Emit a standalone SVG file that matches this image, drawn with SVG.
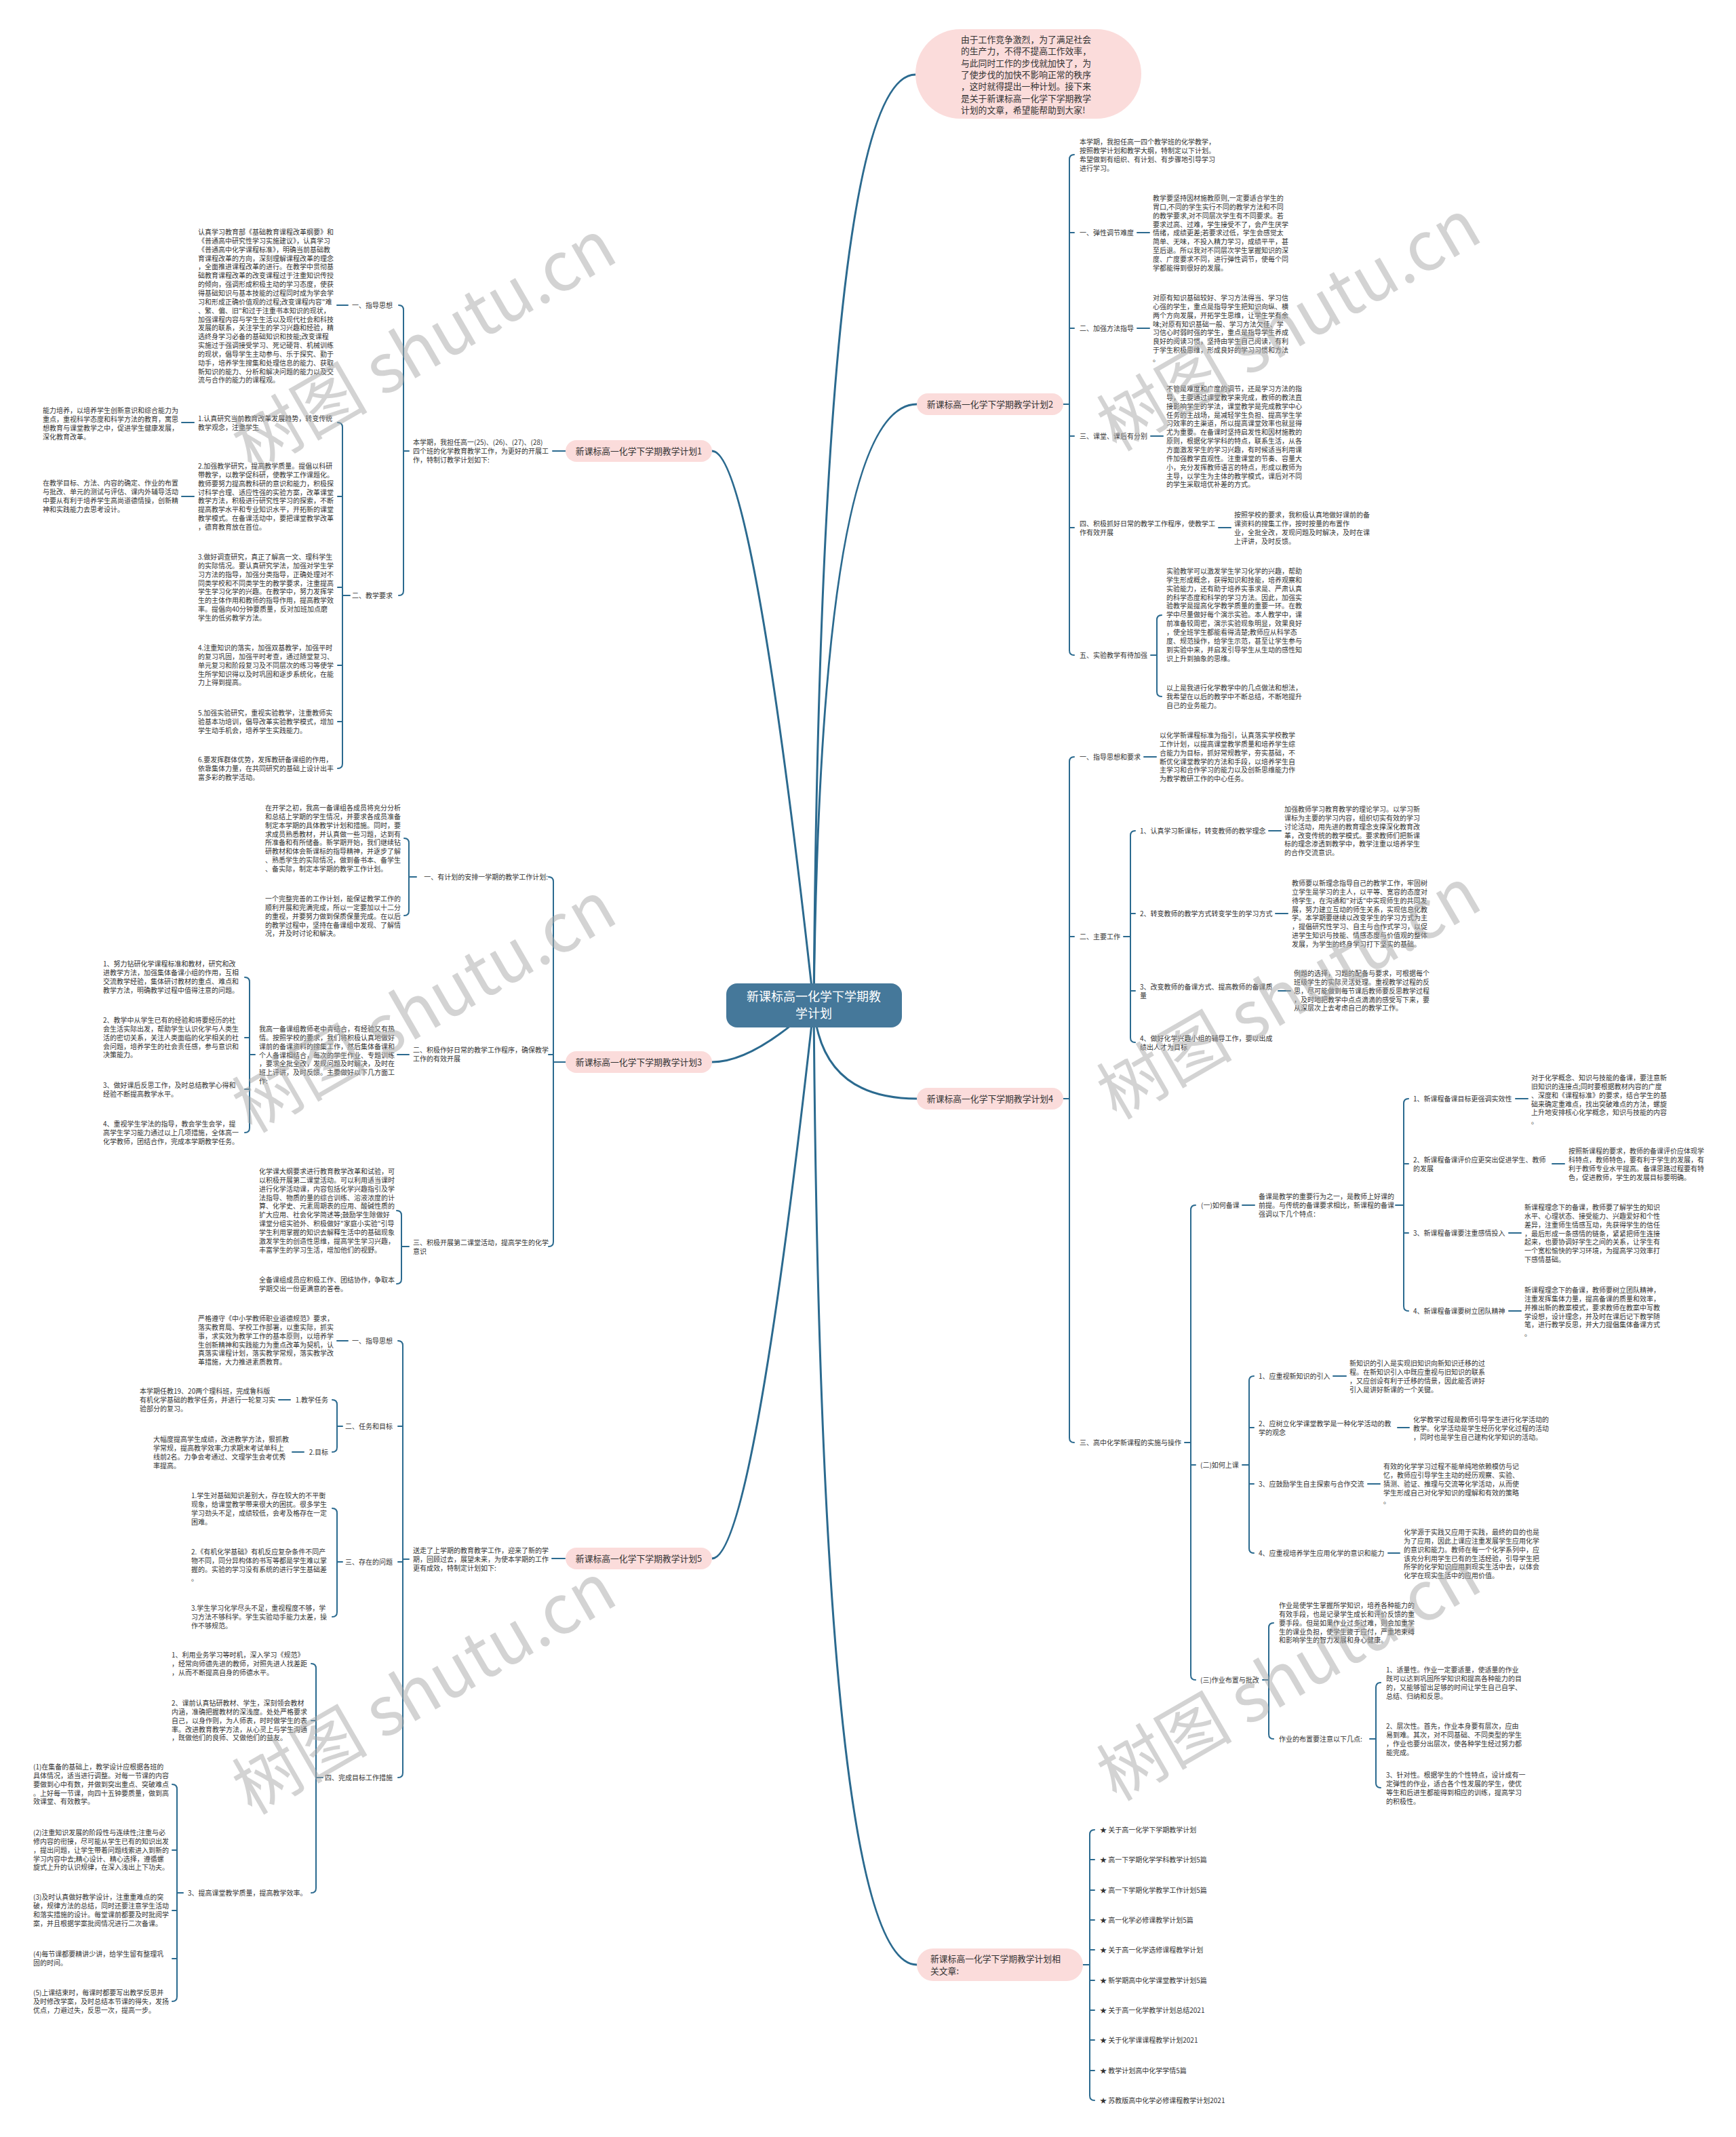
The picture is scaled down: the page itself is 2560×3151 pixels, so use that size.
<svg xmlns="http://www.w3.org/2000/svg" width="2560" height="3151" viewBox="0 0 2560 3151">
<style>
.t{font-family:"Noto Sans CJK SC","Liberation Sans",sans-serif;font-size:10px;fill:#333}
.e{text-anchor:end}
.pt{font-family:"Noto Sans CJK SC","Liberation Sans",sans-serif;font-size:12.8px;fill:#333}
.pill{fill:#fbdcdb}
.c{fill:none;stroke:#2b6a8f;stroke-width:2;stroke-linecap:round}
.m{fill:none;stroke:#2b6a8f;stroke-width:3;stroke-linecap:round}
.wm{font-family:"Noto Sans CJK SC","Liberation Sans",sans-serif;font-size:100px;fill:#a8a8a8;opacity:0.5;text-anchor:middle}
</style>
<rect width="2560" height="3151" fill="#ffffff"/>
<g id="connectors">
<path class="m" d="M1200 1483 Q1210 110 1350 110"/>
<path class="m" d="M1200 1483 Q1210 596 1352 596"/>
<path class="m" d="M1200 1483 Q1210 1620 1352 1620"/>
<path class="m" d="M1200 1483 Q1210 2897 1352 2897"/>
<path class="m" d="M1200 1483 Q1110 665 1050 665"/>
<path class="m" d="M1200 1483 Q1110 1566 1050 1566"/>
<path class="m" d="M1200 1483 Q1110 2298 1050 2298"/>
<path class="c" d="M1568 596 H1577 M1584 228 Q1577 228 1577 235 V959 Q1577 966 1584 966 M1577 343 H1584 M1577 484 H1584 M1577 643 H1584 M1577 778 H1584"/>
<path class="c" d="M1677 343 H1695 M1677 484 H1695 M1697 643 H1715 M1797 778 H1815 M1697 966 H1706 M1713 907 Q1706 907 1706 914 V1020 Q1706 1027 1713 1027"/>
<path class="c" d="M1568 1620 H1577 M1584 1116 Q1577 1116 1577 1123 V2120 Q1577 2127 1584 2127 M1577 1381 H1584"/>
<path class="c" d="M1687 1116 H1705 M1657 1381 H1667 M1674 1225 Q1667 1225 1667 1232 V1530 Q1667 1537 1674 1537 M1667 1347 H1674 M1667 1461 H1674"/>
<path class="c" d="M1871 1225 H1889 M1881 1347 H1899 M1885 1461 H1903"/>
<path class="c" d="M1747 2127 H1756 M1763 1777 Q1756 1777 1756 1784 V2470 Q1756 2477 1763 2477 M1756 2160 H1763"/>
<path class="c" d="M1832 1777 H1850 M2058 1777 H2070 M2077 1620 Q2070 1620 2070 1627 V1926 Q2070 1933 2077 1933 M2070 1716 H2077 M2070 1818 H2077"/>
<path class="c" d="M2235 1620 H2253 M2289 1716 H2307 M2225 1818 H2243 M2225 1933 H2243"/>
<path class="c" d="M1832 2160 H1842 M1849 2029 Q1842 2029 1842 2036 V2283 Q1842 2290 1849 2290 M1842 2105 H1849 M1842 2188 H1849"/>
<path class="c" d="M1966 2029 H1985 M2061 2105 H2078 M2017 2188 H2035 M2047 2290 H2064"/>
<path class="c" d="M1862 2477 H1871 M1878 2393 Q1871 2393 1871 2400 V2557 Q1871 2564 1878 2564"/>
<path class="c" d="M2020 2564 H2029 M2036 2481 Q2029 2481 2029 2488 V2629 Q2029 2636 2036 2636"/>
<path class="c" d="M1597 2897 H1607 M1614 2698 Q1607 2698 1607 2705 V3090 Q1607 3097 1614 3097 M1607 2742 H1614 M1607 2787 H1614 M1607 2831 H1614 M1607 2875 H1614 M1607 2920 H1614 M1607 2964 H1614 M1607 3008 H1614 M1607 3053 H1614"/>
<path class="c" d="M834 665 H815 M603 665 H595 M588 450 Q595 450 595 457 V871 Q595 878 588 878"/>
<path class="c" d="M513 450 H497 M516 878 H505 M498 623 Q505 623 505 630 V1126 Q505 1133 498 1133 M505 732 H498 M505 866 H498 M505 981 H498 M505 1064 H498"/>
<path class="c" d="M286 623 H268 M286 732 H268"/>
<path class="c" d="M834 1566 H816 M809 1293 Q816 1293 816 1300 V1831 Q816 1838 809 1838 M816 1555 H809"/>
<path class="c" d="M614 1293 H603 M596 1236 Q603 1236 603 1243 V1343 Q603 1350 596 1350"/>
<path class="c" d="M603 1555 H586 M376 1555 H368 M361 1441 Q368 1441 368 1448 V1663 Q368 1670 361 1670 M368 1530 H361 M368 1606 H361"/>
<path class="c" d="M603 1838 H592 M585 1785 Q592 1785 592 1792 V1886 Q592 1893 585 1893"/>
<path class="c" d="M833 2298 H814 M603 2299 H594 M587 1977 Q594 1977 594 1984 V2614 Q594 2621 587 2621 M594 2103 H587 M594 2303 H587"/>
<path class="c" d="M513 1977 H497 M505 2103 H497 M490 2064 Q497 2064 497 2071 V2134 Q497 2141 490 2141 M428 2064 H411 M448 2141 H431"/>
<path class="c" d="M505 2303 H497 M490 2224 Q497 2224 497 2231 V2377 Q497 2384 490 2384"/>
<path class="c" d="M476 2621 H466 M459 2453 Q466 2453 466 2460 V2784 Q466 2791 459 2791 M466 2537 H459"/>
<path class="c" d="M270 2791 H261 M254 2631 Q261 2631 261 2638 V2944 Q261 2951 254 2951 M261 2728 H254 M261 2817 H254 M261 2888 H254"/>
</g>

<g id="center">
<rect x="1071" y="1450" width="259" height="65" rx="16" fill="#45789a"/>
<text x="1200" y="1476" text-anchor="middle" style="font-family:'Noto Sans CJK SC',sans-serif;font-size:18px;fill:#ffffff"><tspan x="1200">新课标高一化学下学期教</tspan><tspan x="1200" dy="25">学计划</tspan></text>
</g>

<g id="intro">
<rect class="pill" x="1350" y="43" width="333" height="132" rx="66"/>
<text class="pt" x="1417" y="63"><tspan x="1417">由于工作竞争激烈，为了满足社会</tspan><tspan x="1417" dy="17.3">的生产力，不得不提高工作效率，</tspan><tspan x="1417" dy="17.3">与此同时工作的步伐就加快了，为</tspan><tspan x="1417" dy="17.3">了使步伐的加快不影响正常的秩序</tspan><tspan x="1417" dy="17.3">，这时就得提出一种计划。接下来</tspan><tspan x="1417" dy="17.3">是关于新课标高一化学下学期教学</tspan><tspan x="1417" dy="17.3">计划的文章，希望能帮助到大家!</tspan></text>
</g>

<g id="b2">
<rect class="pill" x="1352" y="580" width="216" height="32" rx="16"/>
<text class="pt" x="1460" y="601" text-anchor="middle">新课标高一化学下学期教学计划2</text>
</g>
<g id="b2-intro">
<text class="t" x="1592" y="213"><tspan x="1592">本学期，我担任高一四个教学班的化学教学，</tspan><tspan x="1592" dy="12.85">按照教学计划和教学大纲，特制定以下计划。</tspan><tspan x="1592" dy="12.85">希望做到有组织、有计划、有步骤地引导学习</tspan><tspan x="1592" dy="12.85">进行学习。</tspan></text>
</g>
<g id="b2-1">
<text class="t" x="1592" y="347">一、弹性调节难度</text>
<text class="t" x="1700" y="296"><tspan x="1700">教学要坚持因材施教原则,一定要适合学生的</tspan><tspan x="1700" dy="12.85">胃口,不同的学生实行不同的教学方法和不同</tspan><tspan x="1700" dy="12.85">的教学要求,对不同层次学生有不同要求。若</tspan><tspan x="1700" dy="12.85">要求过高、过难，学生接受不了，会产生厌学</tspan><tspan x="1700" dy="12.85">情绪，成绩更差;若要求过低，学生会感觉太</tspan><tspan x="1700" dy="12.85">简单、无味，不投入精力学习，成绩平平，甚</tspan><tspan x="1700" dy="12.85">至后退。所以我对不同层次学生掌握知识的深</tspan><tspan x="1700" dy="12.85">度、广度要求不同，进行弹性调节，使每个同</tspan><tspan x="1700" dy="12.85">学都能得到很好的发展。</tspan></text>
</g>
<g id="b2-2">
<text class="t" x="1592" y="488">二、加强方法指导</text>
<text class="t" x="1700" y="443"><tspan x="1700">对原有知识基础较好、学习方法得当、学习信</tspan><tspan x="1700" dy="12.85">心强的学生，重点是指导学生把知识向纵、横</tspan><tspan x="1700" dy="12.85">两个方向发展，开拓学生思维，让学生学有余</tspan><tspan x="1700" dy="12.85">味;对原有知识基础一般、学习方法欠佳、学</tspan><tspan x="1700" dy="12.85">习信心时弱时强的学生，重点是指导学生养成</tspan><tspan x="1700" dy="12.85">良好的阅读习惯，坚持由学生自己阅读，有利</tspan><tspan x="1700" dy="12.85">于学生积极思维，形成良好的学习习惯和方法</tspan><tspan x="1700" dy="12.85">。</tspan></text>
</g>
<g id="b2-3">
<text class="t" x="1592" y="647">三、课堂、课后有分别</text>
<text class="t" x="1720" y="577"><tspan x="1720">不管是难度和广度的调节，还是学习方法的指</tspan><tspan x="1720" dy="12.85">导，主要通过课堂教学来完成，教师的教法直</tspan><tspan x="1720" dy="12.85">接影响学生的学法，课堂教学是完成教学中心</tspan><tspan x="1720" dy="12.85">任务的主战场，是减轻学生负担、提高学生学</tspan><tspan x="1720" dy="12.85">习效率的主渠道，所以提高课堂效率也就显得</tspan><tspan x="1720" dy="12.85">尤为重要。在备课时坚持启发性和因材施教的</tspan><tspan x="1720" dy="12.85">原则，根据化学学科的特点，联系生活，从各</tspan><tspan x="1720" dy="12.85">方面激发学生的学习兴趣，有时候适当利用课</tspan><tspan x="1720" dy="12.85">件加强教学直观性。注重课堂的节奏、容量大</tspan><tspan x="1720" dy="12.85">小，充分发挥教师语言的特点，形成以教师为</tspan><tspan x="1720" dy="12.85">主导，以学生为主体的教学模式，课后对不同</tspan><tspan x="1720" dy="12.85">的学生采取培优补差的方式。</tspan></text>
</g>
<g id="b2-4">
<text class="t" x="1592" y="776"><tspan x="1592">四、积极抓好日常的教学工作程序，使教学工</tspan><tspan x="1592" dy="12.85">作有效开展</tspan></text>
<text class="t" x="1820" y="763"><tspan x="1820">按照学校的要求，我积极认真地做好课前的备</tspan><tspan x="1820" dy="12.85">课资料的搜集工作，按时按量的布置作</tspan><tspan x="1820" dy="12.85">业，全批全改，发现问题及时解决，及时在课</tspan><tspan x="1820" dy="12.85">上评讲，及时反馈。</tspan></text>
</g>
<g id="b2-5">
<text class="t" x="1592" y="970">五、实验教学有待加强</text>
<text class="t" x="1720" y="846"><tspan x="1720">实验教学可以激发学生学习化学的兴趣，帮助</tspan><tspan x="1720" dy="12.85">学生形成概念，获得知识和技能，培养观察和</tspan><tspan x="1720" dy="12.85">实验能力，还有助于培养实事求是、严肃认真</tspan><tspan x="1720" dy="12.85">的科学态度和科学的学习方法。因此，加强实</tspan><tspan x="1720" dy="12.85">验教学是提高化学教学质量的重要一环。在教</tspan><tspan x="1720" dy="12.85">学中尽量做好每个演示实验。本人教学中，课</tspan><tspan x="1720" dy="12.85">前准备较周密，演示实验现象明显，效果良好</tspan><tspan x="1720" dy="12.85">，使全班学生都能看得清楚;教师应从科学态</tspan><tspan x="1720" dy="12.85">度、规范操作，给学生示范，甚至让学生参与</tspan><tspan x="1720" dy="12.85">到实验中来，并启发引导学生从生动的感性知</tspan><tspan x="1720" dy="12.85">识上升到抽象的思维。</tspan></text>
<text class="t" x="1720" y="1018"><tspan x="1720">以上是我进行化学教学中的几点做法和想法，</tspan><tspan x="1720" dy="12.85">我希望在以后的教学中不断总结，不断地提升</tspan><tspan x="1720" dy="12.85">自己的业务能力。</tspan></text>
</g>

<g id="b4">
<rect class="pill" x="1352" y="1604" width="216" height="32" rx="16"/>
<text class="pt" x="1460" y="1625" text-anchor="middle">新课标高一化学下学期教学计划4</text>
</g>
<g id="b4-1">
<text class="t" x="1592" y="1120">一、指导思想和要求</text>
<text class="t" x="1710" y="1088"><tspan x="1710">以化学新课程标准为指引，认真落实学校教学</tspan><tspan x="1710" dy="12.85">工作计划，以提高课堂教学质量和培养学生综</tspan><tspan x="1710" dy="12.85">合能力为目标，抓好常规教学，夯实基础，不</tspan><tspan x="1710" dy="12.85">断优化课堂教学的方法和手段，以培养学生自</tspan><tspan x="1710" dy="12.85">主学习和合作学习的能力以及创新思维能力作</tspan><tspan x="1710" dy="12.85">为教学教研工作的中心任务。</tspan></text>
</g>
<g id="b4-2">
<text class="t" x="1592" y="1385">二、主要工作</text>
</g>
<g id="b4-2-1">
<text class="t" x="1681" y="1229">1、认真学习新课标，转变教师的教学理念</text>
<text class="t" x="1894" y="1197"><tspan x="1894">加强教师学习教育教学的理论学习。以学习新</tspan><tspan x="1894" dy="12.85">课标为主要的学习内容，组织切实有效的学习</tspan><tspan x="1894" dy="12.85">讨论活动，用先进的教育理念支撑深化教育改</tspan><tspan x="1894" dy="12.85">革，改变传统的教学模式。要求教师们把新课</tspan><tspan x="1894" dy="12.85">标的理念渗透到教学中，教学注重以培养学生</tspan><tspan x="1894" dy="12.85">的合作交流意识。</tspan></text>
</g>
<g id="b4-2-2">
<text class="t" x="1681" y="1351">2、转变教师的教学方式转变学生的学习方式</text>
<text class="t" x="1905" y="1306"><tspan x="1905">教师要以新理念指导自己的教学工作，牢固树</tspan><tspan x="1905" dy="12.85">立学生是学习的主人，以平等、宽容的态度对</tspan><tspan x="1905" dy="12.85">待学生，在沟通和&quot;对话&quot;中实现师生的共同发</tspan><tspan x="1905" dy="12.85">展，努力建立互动的师生关系，实现信息化教</tspan><tspan x="1905" dy="12.85">学。本学期要继续以改变学生的学习方式为主</tspan><tspan x="1905" dy="12.85">，提倡研究性学习、自主与合作式学习，以促</tspan><tspan x="1905" dy="12.85">进学生知识与技能、情感态度与价值观的整体</tspan><tspan x="1905" dy="12.85">发展，为学生的终身学习打下坚实的基础。</tspan></text>
</g>
<g id="b4-2-3">
<text class="t" x="1681" y="1459"><tspan x="1681">3、改变教师的备课方式、提高教师的备课质</tspan><tspan x="1681" dy="12.85">量</tspan></text>
<text class="t" x="1908" y="1439"><tspan x="1908">例题的选择，习题的配备与要求，可根据每个</tspan><tspan x="1908" dy="12.85">班级学生的实际灵活处理。重视教学过程的反</tspan><tspan x="1908" dy="12.85">思，尽可能做到每节课后教师要反思教学过程</tspan><tspan x="1908" dy="12.85">，及时地把教学中点点滴滴的感受写下来，要</tspan><tspan x="1908" dy="12.85">从深层次上去考虑自己的教学工作。</tspan></text>
</g>
<g id="b4-2-4">
<text class="t" x="1681" y="1535"><tspan x="1681">4、做好化学兴趣小组的辅导工作，要以出成</tspan><tspan x="1681" dy="12.85">绩出人才为目标</tspan></text>
</g>
<g id="b4-3">
<text class="t" x="1592" y="2131">三、高中化学新课程的实施与操作</text>
</g>
<g id="b4-3-1">
<text class="t" x="1771" y="1781">(一)如何备课</text>
<text class="t" x="1856" y="1768"><tspan x="1856">备课是教学的重要行为之一，是教师上好课的</tspan><tspan x="1856" dy="12.85">前提。与传统的备课要求相比，新课程的备课</tspan><tspan x="1856" dy="12.85">强调以下几个特点：</tspan></text>
</g>
<g id="b4-3-1-1">
<text class="t" x="2084" y="1624">1、新课程备课目标更强调实效性</text>
<text class="t" x="2258" y="1593"><tspan x="2258">对于化学概念、知识与技能的备课，要注意新</tspan><tspan x="2258" dy="12.85">旧知识的连接点;同时要根据教材内容的广度</tspan><tspan x="2258" dy="12.85">、深度和《课程标准》的要求，结合学生的基</tspan><tspan x="2258" dy="12.85">础来确定重难点，找出突破难点的方法，螺旋</tspan><tspan x="2258" dy="12.85">上升地安排核心化学概念，知识与技能的内容</tspan><tspan x="2258" dy="12.85">。</tspan></text>
</g>
<g id="b4-3-1-2">
<text class="t" x="2084" y="1714"><tspan x="2084">2、新课程备课评价应更突出促进学生、教师</tspan><tspan x="2084" dy="12.85">的发展</tspan></text>
<text class="t" x="2313" y="1701"><tspan x="2313">按照新课程的要求，教师的备课评价应体现学</tspan><tspan x="2313" dy="12.85">科特点，教师特色，要有利于学生的发展，有</tspan><tspan x="2313" dy="12.85">利于教师专业水平提高。备课思路过程要有特</tspan><tspan x="2313" dy="12.85">色，促进教师，学生的发展目标要明确。</tspan></text>
</g>
<g id="b4-3-1-3">
<text class="t" x="2084" y="1822">3、新课程备课要注重感情投入</text>
<text class="t" x="2248" y="1784"><tspan x="2248">新课程理念下的备课，教师要了解学生的知识</tspan><tspan x="2248" dy="12.85">水平、心理状态、接受能力、兴趣爱好和个性</tspan><tspan x="2248" dy="12.85">差异，注重师生情感互动，先获得学生的信任</tspan><tspan x="2248" dy="12.85">，最后形成一条感情的链条，紧紧把师生连接</tspan><tspan x="2248" dy="12.85">起来，也要协调好学生之间的关系，让学生有</tspan><tspan x="2248" dy="12.85">一个宽松愉快的学习环境，为提高学习效率打</tspan><tspan x="2248" dy="12.85">下感情基础。</tspan></text>
</g>
<g id="b4-3-1-4">
<text class="t" x="2084" y="1937">4、新课程备课要树立团队精神</text>
<text class="t" x="2248" y="1906"><tspan x="2248">新课程理念下的备课，教师要树立团队精神，</tspan><tspan x="2248" dy="12.85">注重发挥集体力量，提高备课的质量和效率，</tspan><tspan x="2248" dy="12.85">并推出新的教案模式，要求教师在教案中写教</tspan><tspan x="2248" dy="12.85">学设想，设计理念，并及时在课后记下教学随</tspan><tspan x="2248" dy="12.85">笔，进行教学反思，并大力提倡集体备课方式</tspan><tspan x="2248" dy="12.85">。</tspan></text>
</g>
<g id="b4-3-2">
<text class="t" x="1770" y="2164">(二)如何上课</text>
</g>
<g id="b4-3-2-1">
<text class="t" x="1856" y="2033">1、应重视新知识的引入</text>
<text class="t" x="1990" y="2014"><tspan x="1990">新知识的引入是实现旧知识向新知识迁移的过</tspan><tspan x="1990" dy="12.85">程。在新知识引入中既应重视与旧知识的联系</tspan><tspan x="1990" dy="12.85">，又应创设有利于迁移的情景，因此能否讲好</tspan><tspan x="1990" dy="12.85">引入是讲好新课的一个关键。</tspan></text>
</g>
<g id="b4-3-2-2">
<text class="t" x="1856" y="2103"><tspan x="1856">2、应树立化学课堂教学是一种化学活动的教</tspan><tspan x="1856" dy="12.85">学的观念</tspan></text>
<text class="t" x="2084" y="2097"><tspan x="2084">化学教学过程是教师引导学生进行化学活动的</tspan><tspan x="2084" dy="12.85">教学。化学活动是学生经历化学化过程的活动</tspan><tspan x="2084" dy="12.85">，同时也是学生自己建构化学知识的活动。</tspan></text>
</g>
<g id="b4-3-2-3">
<text class="t" x="1856" y="2192">3、应鼓励学生自主探索与合作交流</text>
<text class="t" x="2040" y="2166"><tspan x="2040">有效的化学学习过程不能单纯地依赖模仿与记</tspan><tspan x="2040" dy="12.85">忆，教师应引导学生主动的经历观察、实验、</tspan><tspan x="2040" dy="12.85">猜测、验证、推理与交流等化学活动，从而使</tspan><tspan x="2040" dy="12.85">学生形成自己对化学知识的理解和有效的策略</tspan><tspan x="2040" dy="12.85">。</tspan></text>
</g>
<g id="b4-3-2-4">
<text class="t" x="1856" y="2294">4、应重视培养学生应用化学的意识和能力</text>
<text class="t" x="2070" y="2263"><tspan x="2070">化学源于实践又应用于实践，最终的目的也是</tspan><tspan x="2070" dy="12.85">为了应用，因此上课应注重发展学生应用化学</tspan><tspan x="2070" dy="12.85">的意识和能力。教师在每一个化学系列中，应</tspan><tspan x="2070" dy="12.85">该充分利用学生已有的生活经验，引导学生把</tspan><tspan x="2070" dy="12.85">所学的化学知识应用到现实生活中去，以体会</tspan><tspan x="2070" dy="12.85">化学在现实生活中的应用价值。</tspan></text>
</g>
<g id="b4-3-3">
<text class="t" x="1770" y="2481">(三)作业布置与批改</text>
<text class="t" x="1886" y="2371"><tspan x="1886">作业是使学生掌握所学知识，培养各种能力的</tspan><tspan x="1886" dy="12.85">有效手段，也是记录学生成长和评价反馈的重</tspan><tspan x="1886" dy="12.85">要手段。但是如果作业过多过难，则会加重学</tspan><tspan x="1886" dy="12.85">生的课业负担，使学生疲于应付，严重地束缚</tspan><tspan x="1886" dy="12.85">和影响学生的智力发展和身心健康。</tspan></text>
<text class="t" x="1886" y="2568">作业的布置要注意以下几点:</text>
</g>
<g id="b4-3-3-1">
<text class="t" x="2044" y="2466"><tspan x="2044">1、适量性。作业一定要适量，使适量的作业</tspan><tspan x="2044" dy="12.85">既可以达到巩固所学知识和提高各种能力的目</tspan><tspan x="2044" dy="12.85">的，又能够留出足够的时间让学生自己自学、</tspan><tspan x="2044" dy="12.85">总结、归纳和反思。</tspan></text>
</g>
<g id="b4-3-3-2">
<text class="t" x="2044" y="2549"><tspan x="2044">2、层次性。首先，作业本身要有层次，应由</tspan><tspan x="2044" dy="12.85">易到难。其次，对不同基础、不同类型的学生</tspan><tspan x="2044" dy="12.85">，作业也要分出层次，使各种学生经过努力都</tspan><tspan x="2044" dy="12.85">能完成。</tspan></text>
</g>
<g id="b4-3-3-3">
<text class="t" x="2044" y="2621"><tspan x="2044">3、针对性。根据学生的个性特点，设计成有一</tspan><tspan x="2044" dy="12.85">定弹性的作业，适合各个性发展的学生，使优</tspan><tspan x="2044" dy="12.85">等生和后进生都能得到相应的训练，提高学习</tspan><tspan x="2044" dy="12.85">的积极性。</tspan></text>
</g>

<g id="related">
<rect class="pill" x="1352" y="2873" width="245" height="48" rx="24"/>
<text class="pt" x="1372" y="2893"><tspan x="1372">新课标高一化学下学期教学计划相</tspan><tspan x="1372" dy="18">关文章:</tspan></text>
</g>
<g id="related-items">
<text class="t" x="1622" y="2702">★ 关于高一化学下学期教学计划</text>
<text class="t" x="1622" y="2746">★ 高一下学期化学学科教学计划5篇</text>
<text class="t" x="1622" y="2791">★ 高一下学期化学教学工作计划5篇</text>
<text class="t" x="1622" y="2835">★ 高一化学必修课教学计划5篇</text>
<text class="t" x="1622" y="2879">★ 关于高一化学选修课程教学计划</text>
<text class="t" x="1622" y="2924">★ 新学期高中化学课堂教学计划5篇</text>
<text class="t" x="1622" y="2968">★ 关于高一化学教学计划总结2021</text>
<text class="t" x="1622" y="3012">★ 关于化学课课程教学计划2021</text>
<text class="t" x="1622" y="3057">★ 教学计划高中化学学情5篇</text>
<text class="t" x="1622" y="3101">★ 苏教版高中化学必修课程教学计划2021</text>
</g>

<g id="b1">
<rect class="pill" x="834" y="649" width="216" height="32" rx="16"/>
<text class="pt" x="942" y="670" text-anchor="middle">新课标高一化学下学期教学计划1</text>
</g>
<g id="b1-intro">
<text class="t" x="609" y="656"><tspan x="609">本学期，我担任高一(25)、(26)、(27)、(28)</tspan><tspan x="609" dy="12.85">四个班的化学教育教学工作，为更好的开展工</tspan><tspan x="609" dy="12.85">作，特制订教学计划如下:</tspan></text>
</g>
<g id="b1-1">
<text class="t e" x="579" y="454">一、指导思想</text>
<text class="t" x="292" y="346"><tspan x="292">认真学习教育部《基础教育课程改革纲要》和</tspan><tspan x="292" dy="12.85">《普通高中研究性学习实施建议》，认真学习</tspan><tspan x="292" dy="12.85">《普通高中化学课程标准》，明确当前基础教</tspan><tspan x="292" dy="12.85">育课程改革的方向，深刻理解课程改革的理念</tspan><tspan x="292" dy="12.85">，全面推进课程改革的进行。在教学中贯彻基</tspan><tspan x="292" dy="12.85">础教育课程改革的改变课程过于注重知识传授</tspan><tspan x="292" dy="12.85">的倾向，强调形成积极主动的学习态度，使获</tspan><tspan x="292" dy="12.85">得基础知识与基本技能的过程同时成为学会学</tspan><tspan x="292" dy="12.85">习和形成正确价值观的过程;改变课程内容&quot;难</tspan><tspan x="292" dy="12.85">、繁、偏、旧&quot;和过于注重书本知识的现状，</tspan><tspan x="292" dy="12.85">加强课程内容与学生生活以及现代社会和科技</tspan><tspan x="292" dy="12.85">发展的联系，关注学生的学习兴趣和经验，精</tspan><tspan x="292" dy="12.85">选终身学习必备的基础知识和技能;改变课程</tspan><tspan x="292" dy="12.85">实施过于强调接受学习、死记硬背、机械训练</tspan><tspan x="292" dy="12.85">的现状，倡导学生主动参与、乐于探究、勤于</tspan><tspan x="292" dy="12.85">动手，培养学生搜集和处理信息的能力、获取</tspan><tspan x="292" dy="12.85">新知识的能力、分析和解决问题的能力以及交</tspan><tspan x="292" dy="12.85">流与合作的能力的课程观。</tspan></text>
</g>
<g id="b1-2">
<text class="t e" x="579" y="882">二、教学要求</text>
</g>
<g id="b1-2-1">
<text class="t" x="292" y="621"><tspan x="292">1.认真研究当前教育改革发展趋势，转变传统</tspan><tspan x="292" dy="12.85">教学观念，注重学生</tspan></text>
<text class="t" x="63" y="609"><tspan x="63">能力培养，以培养学生创新意识和综合能力为</tspan><tspan x="63" dy="12.85">重点，重视科学态度和科学方法的教育，寓思</tspan><tspan x="63" dy="12.85">想教育与课堂教学之中，促进学生健康发展，</tspan><tspan x="63" dy="12.85">深化教育改革。</tspan></text>
</g>
<g id="b1-2-2">
<text class="t" x="292" y="691"><tspan x="292">2.加强教学研究，提高教学质量。提倡以科研</tspan><tspan x="292" dy="12.85">带教学，以教学促科研，使教学工作课题化。</tspan><tspan x="292" dy="12.85">教师要努力提高教科研的意识和能力，积极探</tspan><tspan x="292" dy="12.85">讨科学合理、适应性强的实验方案，改革课堂</tspan><tspan x="292" dy="12.85">教学方法，积极进行研究性学习的探索，不断</tspan><tspan x="292" dy="12.85">提高教学水平和专业知识水平，开拓新的课堂</tspan><tspan x="292" dy="12.85">教学模式。在备课活动中，要把课堂教学改革</tspan><tspan x="292" dy="12.85">，德育教育放在首位。</tspan></text>
<text class="t" x="63" y="716"><tspan x="63">在教学目标、方法、内容的确定、作业的布置</tspan><tspan x="63" dy="12.85">与批改、单元的测试与评估、课内外辅导活动</tspan><tspan x="63" dy="12.85">中要从有利于培养学生高尚道德情操，创新精</tspan><tspan x="63" dy="12.85">神和实践能力去思考设计。</tspan></text>
</g>
<g id="b1-2-3">
<text class="t" x="292" y="825"><tspan x="292">3.做好调查研究，真正了解高一文、理科学生</tspan><tspan x="292" dy="12.85">的实际情况。要认真研究学法，加强对学生学</tspan><tspan x="292" dy="12.85">习方法的指导，加强分类指导，正确处理对不</tspan><tspan x="292" dy="12.85">同类学校和不同类学生的教学要求，注重提高</tspan><tspan x="292" dy="12.85">学生学习化学的兴趣。在教学中，努力发挥学</tspan><tspan x="292" dy="12.85">生的主体作用和教师的指导作用，提高教学效</tspan><tspan x="292" dy="12.85">率。提倡向40分钟要质量，反对加班加点磨</tspan><tspan x="292" dy="12.85">学生的低劣教学方法。</tspan></text>
</g>
<g id="b1-2-4">
<text class="t" x="292" y="959"><tspan x="292">4.注重知识的落实，加强双基教学，加强平时</tspan><tspan x="292" dy="12.85">的复习巩固，加强平时考查，通过随堂复习、</tspan><tspan x="292" dy="12.85">单元复习和阶段复习及不同层次的练习等使学</tspan><tspan x="292" dy="12.85">生所学知识得以及时巩固和逐步系统化，在能</tspan><tspan x="292" dy="12.85">力上得到提高。</tspan></text>
</g>
<g id="b1-2-5">
<text class="t" x="292" y="1055"><tspan x="292">5.加强实验研究，重视实验教学，注重教师实</tspan><tspan x="292" dy="12.85">验基本功培训，倡导改革实验教学模式，增加</tspan><tspan x="292" dy="12.85">学生动手机会，培养学生实践能力。</tspan></text>
</g>
<g id="b1-2-6">
<text class="t" x="292" y="1124"><tspan x="292">6.要发挥群体优势，发挥教研备课组的作用，</tspan><tspan x="292" dy="12.85">依靠集体力量，在共同研究的基础上设计出丰</tspan><tspan x="292" dy="12.85">富多彩的教学活动。</tspan></text>
</g>

<g id="b3">
<rect class="pill" x="834" y="1550" width="216" height="32" rx="16"/>
<text class="pt" x="942" y="1571" text-anchor="middle">新课标高一化学下学期教学计划3</text>
</g>
<g id="b3-1">
<text class="t e" x="808" y="1297">一、有计划的安排一学期的教学工作计划:</text>
<text class="t" x="391" y="1195"><tspan x="391">在开学之初，我高一备课组各成员将充分分析</tspan><tspan x="391" dy="12.85">和总结上学期的学生情况，并要求各成员准备</tspan><tspan x="391" dy="12.85">制定本学期的具体教学计划和措施。同时，要</tspan><tspan x="391" dy="12.85">求成员熟悉教材，并认真做一些习题，达到有</tspan><tspan x="391" dy="12.85">所准备和有所储备。新学期开始，我们继续钻</tspan><tspan x="391" dy="12.85">研教材和体会新课标的指导精神，并逐步了解</tspan><tspan x="391" dy="12.85">、熟悉学生的实际情况，做到备书本、备学生</tspan><tspan x="391" dy="12.85">、备实际，制定本学期的教学工作计划。</tspan></text>
<text class="t" x="391" y="1329"><tspan x="391">一个完整完善的工作计划，能保证教学工作的</tspan><tspan x="391" dy="12.85">顺利开展和完满完成，所以一定要加以十二分</tspan><tspan x="391" dy="12.85">的重视，并要努力做到保质保量完成。在以后</tspan><tspan x="391" dy="12.85">的教学过程中，坚持在备课组中发现、了解情</tspan><tspan x="391" dy="12.85">况，并及时讨论和解决。</tspan></text>
</g>
<g id="b3-2">
<text class="t" x="609" y="1552"><tspan x="609">二、积极作好日常的教学工作程序，确保教学</tspan><tspan x="609" dy="12.85">工作的有效开展</tspan></text>
<text class="t" x="382" y="1521"><tspan x="382">我高一备课组教师老中青结合，有经验又有热</tspan><tspan x="382" dy="12.85">情。按照学校的要求，我们将积极认真地做好</tspan><tspan x="382" dy="12.85">课前的备课资料的搜集工作，然后集体备课和</tspan><tspan x="382" dy="12.85">个人备课相结合，每次的学生作业、专题训练</tspan><tspan x="382" dy="12.85">，要求全批全改，发现问题及时解决，及时在</tspan><tspan x="382" dy="12.85">班上评讲，及时反馈。主要做好以下几方面工</tspan><tspan x="382" dy="12.85">作:</tspan></text>
</g>
<g id="b3-2-items">
<text class="t" x="152" y="1425"><tspan x="152">1、努力钻研化学课程标准和教材，研究和改</tspan><tspan x="152" dy="12.85">进教学方法，加强集体备课小组的作用，互相</tspan><tspan x="152" dy="12.85">交流教学经验，集体研讨教材的重点、难点和</tspan><tspan x="152" dy="12.85">教学方法，明确教学过程中值得注意的问题。</tspan></text>
<text class="t" x="152" y="1508"><tspan x="152">2、教学中从学生已有的经验和将要经历的社</tspan><tspan x="152" dy="12.85">会生活实际出发，帮助学生认识化学与人类生</tspan><tspan x="152" dy="12.85">活的密切关系，关注人类面临的化学相关的社</tspan><tspan x="152" dy="12.85">会问题，培养学生的社会责任感，参与意识和</tspan><tspan x="152" dy="12.85">决策能力。</tspan></text>
<text class="t" x="152" y="1604"><tspan x="152">3、做好课后反思工作，及时总结教学心得和</tspan><tspan x="152" dy="12.85">经验不断提高教学水平。</tspan></text>
<text class="t" x="152" y="1661"><tspan x="152">4、重视学生学法的指导，教会学生会学，提</tspan><tspan x="152" dy="12.85">高学生学习能力通过以上几项措施，全体高一</tspan><tspan x="152" dy="12.85">化学教师，团结合作，完成本学期教学任务。</tspan></text>
</g>
<g id="b3-3">
<text class="t" x="609" y="1836"><tspan x="609">三、积极开展第二课堂活动，提高学生的化学</tspan><tspan x="609" dy="12.85">意识</tspan></text>
<text class="t" x="382" y="1731"><tspan x="382">化学课大纲要求进行教育教学改革和试验，可</tspan><tspan x="382" dy="12.85">以积极开展第二课堂活动。可以利用适当课时</tspan><tspan x="382" dy="12.85">进行化学活动课，内容包括化学兴趣指引及学</tspan><tspan x="382" dy="12.85">法指导、物质的量的综合训练、溶液浓度的计</tspan><tspan x="382" dy="12.85">算、化学史、元素周期表的应用、酸碱性质的</tspan><tspan x="382" dy="12.85">扩大应用、社会化学简述等;鼓励学生除做好</tspan><tspan x="382" dy="12.85">课堂分组实验外、积极做好&quot;家庭小实验&quot;引导</tspan><tspan x="382" dy="12.85">学生利用掌握的知识去解释生活中的基础现象</tspan><tspan x="382" dy="12.85">激发学生的创造性思维，提高学生学习兴趣，</tspan><tspan x="382" dy="12.85">丰富学生的学习生活，增加他们的视野。</tspan></text>
<text class="t" x="382" y="1891"><tspan x="382">全备课组成员应积极工作、团结协作，争取本</tspan><tspan x="382" dy="12.85">学期交出一份更满意的答卷。</tspan></text>
</g>

<g id="b5">
<rect class="pill" x="834" y="2282" width="216" height="32" rx="16"/>
<text class="pt" x="942" y="2303" text-anchor="middle">新课标高一化学下学期教学计划5</text>
</g>
<g id="b5-intro">
<text class="t" x="609" y="2290"><tspan x="609">送走了上学期的教育教学工作，迎来了新的学</tspan><tspan x="609" dy="12.85">期，回顾过去，展望未来，为使本学期的工作</tspan><tspan x="609" dy="12.85">更有成效，特制定计划如下:</tspan></text>
</g>
<g id="b5-1">
<text class="t e" x="579" y="1981">一、指导思想</text>
<text class="t" x="292" y="1948"><tspan x="292">严格遵守《中小学教师职业道德规范》要求，</tspan><tspan x="292" dy="12.85">落实教育局、学校工作部署，以重实际，抓实</tspan><tspan x="292" dy="12.85">事，求实效为教学工作的基本原则，以培养学</tspan><tspan x="292" dy="12.85">生创新精神和实践能力为重点改革为契机，认</tspan><tspan x="292" dy="12.85">真落实课程计划，落实教学常规，落实教学改</tspan><tspan x="292" dy="12.85">革措施，大力推进素质教育。</tspan></text>
</g>
<g id="b5-2">
<text class="t e" x="579" y="2107">二、任务和目标</text>
<text class="t e" x="484" y="2068">1.教学任务</text>
<text class="t" x="206" y="2055"><tspan x="206">本学期任教19、20两个理科班，完成鲁科版</tspan><tspan x="206" dy="12.85">有机化学基础的教学任务，并进行一轮复习实</tspan><tspan x="206" dy="12.85">验部分的复习。</tspan></text>
<text class="t e" x="484" y="2145">2.目标</text>
<text class="t" x="226" y="2126"><tspan x="226">大幅度提高学生成绩，改进教学方法，狠抓教</tspan><tspan x="226" dy="12.85">学常规，提高教学效率;力求期末考试单科上</tspan><tspan x="226" dy="12.85">线前2名。力争会考通过、文理学生会考优秀</tspan><tspan x="226" dy="12.85">率提高。</tspan></text>
</g>
<g id="b5-3">
<text class="t e" x="579" y="2307">三、存在的问题</text>
<text class="t" x="282" y="2209"><tspan x="282">1.学生对基础知识差别大，存在较大的不平衡</tspan><tspan x="282" dy="12.85">现象，给课堂教学带来很大的困扰。很多学生</tspan><tspan x="282" dy="12.85">学习劲头不足，成绩较低，会考及格存在一定</tspan><tspan x="282" dy="12.85">困难。</tspan></text>
<text class="t" x="282" y="2292"><tspan x="282">2.《有机化学基础》有机反应复杂条件不同产</tspan><tspan x="282" dy="12.85">物不同，同分异构体的书写等都是学生难以掌</tspan><tspan x="282" dy="12.85">握的。实验的学习没有系统的进行学生基础差</tspan><tspan x="282" dy="12.85">。</tspan></text>
<text class="t" x="282" y="2375"><tspan x="282">3.学生学习化学尽头不足，重视程度不够，学</tspan><tspan x="282" dy="12.85">习方法不够科学。学生实验动手能力太差，操</tspan><tspan x="282" dy="12.85">作不够规范。</tspan></text>
</g>
<g id="b5-4">
<text class="t e" x="579" y="2625">四、完成目标工作措施</text>
<text class="t" x="253" y="2444"><tspan x="253">1、利用业务学习等时机，深入学习《规范》</tspan><tspan x="253" dy="12.85">，经常向师德先进的教师，对照先进人找差距</tspan><tspan x="253" dy="12.85">，从而不断提高自身的师德水平。</tspan></text>
<text class="t" x="253" y="2515"><tspan x="253">2、课前认真钻研教材、学生，深刻领会教材</tspan><tspan x="253" dy="12.85">内涵，准确把握教材的深浅度。处处严格要求</tspan><tspan x="253" dy="12.85">自己，以身作则，为人师表，时时做学生的表</tspan><tspan x="253" dy="12.85">率。改进教育教学方法，从心灵上与学生沟通</tspan><tspan x="253" dy="12.85">，既做他们的良师、又做他们的益友。</tspan></text>
<text class="t" x="277" y="2795">3、提高课堂教学质量，提高教学效率。</text>
</g>
<g id="b5-4-3">
<text class="t" x="49" y="2609"><tspan x="49">(1)在集备的基础上，教学设计应根据各班的</tspan><tspan x="49" dy="12.85">具体情况，适当进行调整。对每一节课的内容</tspan><tspan x="49" dy="12.85">要做到心中有数，并做到突出重点、突破难点</tspan><tspan x="49" dy="12.85">。上好每一节课，向四十五钟要质量，做到高</tspan><tspan x="49" dy="12.85">效课堂、有效教学。</tspan></text>
<text class="t" x="49" y="2706"><tspan x="49">(2)注重知识发展的阶段性与连续性;注重与必</tspan><tspan x="49" dy="12.85">修内容的衔接，尽可能从学生已有的知识出发</tspan><tspan x="49" dy="12.85">，提出问题，让学生带着问题线索进入到新的</tspan><tspan x="49" dy="12.85">学习内容中去;精心设计、精心选择，遵循螺</tspan><tspan x="49" dy="12.85">旋式上升的认识规律，在深入浅出上下功夫。</tspan></text>
<text class="t" x="49" y="2801"><tspan x="49">(3)及时认真做好教学设计，注重重难点的突</tspan><tspan x="49" dy="12.85">破，规律方法的总结，同时还要注意学生活动</tspan><tspan x="49" dy="12.85">和落实措施的设计。每堂课前都要及时批阅学</tspan><tspan x="49" dy="12.85">案，并且根据学案批阅情况进行二次备课。</tspan></text>
<text class="t" x="49" y="2885"><tspan x="49">(4)每节课都要精讲少讲，给学生留有整理巩</tspan><tspan x="49" dy="12.85">固的时间。</tspan></text>
<text class="t" x="49" y="2942"><tspan x="49">(5)上课结束时，每课时都要写出教学反思并</tspan><tspan x="49" dy="12.85">及时修改学案，及时总结本节课的得失，发扬</tspan><tspan x="49" dy="12.85">优点，力避过失，反思一次，提高一步。</tspan></text>
</g>

<g id="watermarks">
<text class="wm" x="643" y="540" transform="rotate(-30 643 540)">树图 shutu.cn</text>
<text class="wm" x="1918" y="510" transform="rotate(-30 1918 510)">树图 shutu.cn</text>
<text class="wm" x="643" y="1515" transform="rotate(-30 643 1515)">树图 shutu.cn</text>
<text class="wm" x="1918" y="1495" transform="rotate(-30 1918 1495)">树图 shutu.cn</text>
<text class="wm" x="643" y="2520" transform="rotate(-30 643 2520)">树图 shutu.cn</text>
<text class="wm" x="1918" y="2500" transform="rotate(-30 1918 2500)">树图 shutu.cn</text>
</g>
</svg>
